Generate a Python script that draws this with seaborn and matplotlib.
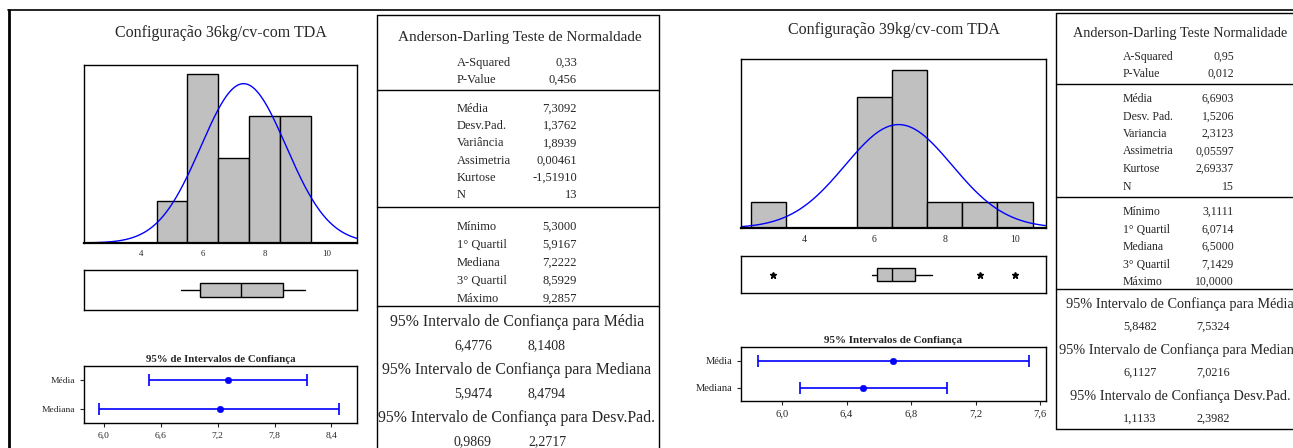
import numpy as np
import pandas as pd
import matplotlib
matplotlib.use('Agg')
import matplotlib.pyplot as plt
import seaborn as sns
from matplotlib.lines import Line2D
from matplotlib.ticker import FuncFormatter

W, H = 1293, 448

# ---------------- dados: 36 kg/cv ----------------
titulo36 = 'Configuração 36kg/cv-com TDA'
bordas36 = [4.5, 5.5, 6.5, 7.5, 8.5, 9.5]
contagem36 = [1, 4, 2, 3, 3]
media36, dp36, n36 = 7.3092, 1.3762, 13
caixa36 = [5.3, 5.9167, 7.2222, 8.5929, 9.2857]   # whislo, q1, med, q3, whishi
outliers36 = []
ic_media36 = [6.4776, 8.1408]
ic_mediana36 = [5.9474, 8.4794]
ad_val36 = ['0,33', '0,456']
desc_rot36 = ['Média', 'Desv.Pad.', 'Variância', 'Assimetria', 'Kurtose', 'N']
desc_val36 = ['7,3092', '1,3762', '1,8939', '0,00461', '-1,51910', '13']
quart_val36 = ['5,3000', '5,9167', '7,2222', '8,5929', '9,2857']
ic_cab36 = ['95% Intervalo de Confiança para Média',
            '95% Intervalo de Confiança para Mediana',
            '95% Intervalo de Confiança para Desv.Pad.']
ic_num36 = [['6,4776', '8,1408'], ['5,9474', '8,4794'], ['0,9869', '2,2717']]

# ---------------- dados: 39 kg/cv ----------------
titulo39 = 'Configuração 39kg/cv-com TDA'
bordas39 = [2.5, 3.5, 4.5, 5.5, 6.5, 7.5, 8.5, 9.5, 10.5]
contagem39 = [1, 0, 0, 5, 6, 1, 1, 1]
media39, dp39, n39 = 6.6903, 1.5206, 15
caixa39 = [5.93, 6.0714, 6.5, 7.1429, 7.65]
outliers39 = [3.1111, 9.0, 10.0]
ic_media39 = [5.8482, 7.5324]
ic_mediana39 = [6.1127, 7.0216]
ad_val39 = ['0,95', '0,012']
desc_rot39 = ['Média', 'Desv. Pad.', 'Variancia', 'Assimetria', 'Kurtose', 'N']
desc_val39 = ['6,6903', '1,5206', '2,3123', '0,05597', '2,69337', '15']
quart_val39 = ['3,1111', '6,0714', '6,5000', '7,1429', '10,0000']
ic_cab39 = ['95% Intervalo de Confiança para Média',
            '95% Intervalo de Confiança para Mediana',
            '95% Intervalo de Confiança Desv.Pad.']
ic_num39 = [['5,8482', '7,5324'], ['6,1127', '7,0216'], ['1,1133', '2,3982']]

ad_rot = ['A-Squared', 'P-Value']
quart_rot = ['Mínimo', '1° Quartil', 'Mediana', '3° Quartil', 'Máximo']

sns.set_style('white')
plt.rcParams['font.family'] = ['Liberation Serif', 'DejaVu Serif']
AZUL = '#0000ff'
CINZA = '#c0c0c0'

fig = plt.figure(figsize=(W / 100, H / 100), dpi=100)


def eixo(x1, y1, x2, y2):
    ax = fig.add_axes([x1 / W, 1 - y2 / H, (x2 - x1) / W, (y2 - y1) / H])
    for s in ax.spines.values():
        s.set_color('black')
        s.set_linewidth(1)
    return ax


def linha(x1, y1, x2, y2, lw=1):
    fig.add_artist(Line2D([x1 / W, x2 / W], [1 - y1 / H, 1 - y2 / H],
                          transform=fig.transFigure, color='black', lw=lw))


def txt(x, y, s, fs, ha='left', **kw):
    fig.text(x / W, 1 - y / H, s, fontsize=fs, ha=ha, va='center', **kw)


virgula = FuncFormatter(lambda v, p: f'{v:.1f}'.replace('.', ','))


def painel(cfg):
    # histograma + curva normal
    ax = eixo(*cfg['hist'])
    b = cfg['bordas']
    df = pd.DataFrame({'centro': [(b[i] + b[i + 1]) / 2 for i in range(len(b) - 1)],
                       'cont': cfg['cont']})
    sns.histplot(data=df, x='centro', weights='cont', bins=b, ax=ax, color=CINZA,
                 edgecolor='black', linewidth=1, alpha=1)
    xs = np.linspace(cfg['xlim'][0], cfg['xlim'][1], 300)
    ys = cfg['n'] * np.exp(-0.5 * ((xs - cfg['media']) / cfg['dp']) ** 2) / (cfg['dp'] * np.sqrt(2 * np.pi))
    sns.lineplot(x=xs, y=ys, ax=ax, color=AZUL, lw=1)
    ax.set_xlim(cfg['xlim'])
    ax.set_ylim(0, cfg['ytop'])
    ax.set_yticks([])
    ax.set_ylabel('')
    ax.set_xlabel('')
    ax.set_xticks([4, 6, 8, 10])
    ax.tick_params(axis='x', length=0, pad=5, labelsize=cfg['fs_tick'])
    ax.spines['bottom'].set_linewidth(1.6)
    fig.text((cfg['hist'][0] + cfg['hist'][2]) / 2 / W, 1 - cfg['ty'] / H, cfg['titulo'],
             fontsize=11.5, ha='center', va='center')

    # boxplot
    ax = eixo(*cfg['box'])
    c = cfg['caixa']
    st = dict(whislo=c[0], q1=c[1], med=c[2], q3=c[3], whishi=c[4], fliers=cfg['out'])
    ax.bxp([st], orientation='horizontal', positions=[0], widths=0.36, showcaps=False,
           patch_artist=True,
           boxprops=dict(facecolor=CINZA, edgecolor='black', linewidth=1),
           medianprops=dict(color='black', linewidth=1),
           whiskerprops=dict(color='black', linewidth=1),
           flierprops=dict(marker='*', markerfacecolor='black', markeredgecolor='black', markersize=5))
    ax.set_xlim(cfg['xlim'])
    ax.set_ylim(-0.5, 0.5)
    ax.set_xticks([])
    ax.set_yticks([])

    # intervalos de confiança
    ax = eixo(*cfg['ci'])
    med, mdn = cfg['media'], c[2]
    im, imd = cfg['icm'], cfg['icmd']
    ax.errorbar([med, mdn], [1, 0], xerr=[[med - im[0], mdn - imd[0]], [im[1] - med, imd[1] - mdn]],
                fmt='none', ecolor=AZUL, elinewidth=1.2, capsize=4, capthick=1.2)
    sns.scatterplot(x=[med, mdn], y=[1, 0], ax=ax, color=AZUL, edgecolor=AZUL, s=22, zorder=3)
    ax.set_xlim(cfg['cxlim'])
    ax.set_ylim(-0.5, 1.5)
    ax.set_xticks(cfg['cticks'])
    ax.xaxis.set_major_formatter(virgula)
    ax.set_yticks([1, 0])
    ax.set_yticklabels(['Média', 'Mediana'])
    ax.tick_params(axis='both', length=3, width=0.8, pad=3, labelsize=cfg['fs_ci'], direction='out',
                   bottom=True, left=True)
    ax.set_title(cfg['cititulo'], fontsize=cfg['fs_cit'], fontweight='bold', pad=3)


def tabela(t):
    fs = t['fs_r']
    txt(t['tx'], t['ty'], t['titulo'], t['fs_t'], ha='center')
    for i, (r, v) in enumerate(zip(ad_rot, t['ad'])):
        y = t['ad_y'] + i * t['ad_dy']
        txt(t['xr'], y, r, fs)
        txt(t['xv'], y, v, fs, ha='right')
    for i, (r, v) in enumerate(zip(t['drot'], t['dval'])):
        y = t['d_y'] + i * t['d_dy']
        txt(t['xr'], y, r, fs)
        txt(t['xv'], y, v, fs, ha='right')
    for i, (r, v) in enumerate(zip(quart_rot, t['qval'])):
        y = t['q_y'] + i * t['q_dy']
        txt(t['xr'], y, r, fs)
        txt(t['xv'], y, v, fs, ha='right')
    for i, (cab, nums) in enumerate(zip(t['cab'], t['nums'])):
        y = t['c_y'] + i * 2 * t['c_dy']
        txt(t['cx'], y, cab, t['fs_c'], ha='center')
        txt(t['n1'], y + t['c_dy'], nums[0], t['fs_n'], ha='center')
        txt(t['n2'], y + t['c_dy'], nums[1], t['fs_n'], ha='center')


painel(dict(hist=(84, 65, 357, 243), box=(84, 270, 357, 310), ci=(84, 366, 357, 423),
            bordas=bordas36, cont=contagem36, media=media36, dp=dp36, n=n36,
            xlim=(2.16, 10.97), ytop=4.21, caixa=caixa36, out=outliers36,
            icm=ic_media36, icmd=ic_mediana36, cxlim=(5.79, 8.67),
            cticks=[6.0, 6.6, 7.2, 7.8, 8.4], titulo=titulo36, ty=33,
            cititulo='95% de Intervalos de Confiança', fs_tick=6.3, fs_ci=6.8, fs_cit=7.8))
painel(dict(hist=(741, 59, 1046, 228), box=(741, 256, 1046, 293), ci=(741, 347, 1046, 401),
            bordas=bordas39, cont=contagem39, media=media39, dp=dp39, n=n39,
            xlim=(2.21, 10.88), ytop=6.43, caixa=caixa39, out=outliers39,
            icm=ic_media39, icmd=ic_mediana39, cxlim=(5.745, 7.637),
            cticks=[6.0, 6.4, 6.8, 7.2, 7.6], titulo=titulo39, ty=30,
            cititulo='95% Intervalos de Confiança', fs_tick=7.0, fs_ci=7.6, fs_cit=8))

# molduras das tabelas
linha(377, 15, 659, 15)
linha(377, 15, 377, 448)
linha(659, 15, 659, 448)
for y in (90, 207, 306):
    linha(377, y, 659, y)
linha(1056, 13, 1293, 13)
linha(1056, 13, 1056, 429)
linha(1056, 429, 1293, 429)
for y in (84, 197, 289):
    linha(1056, y, 1293, y)

tabela(dict(tx=520, ty=38, titulo='Anderson-Darling Teste de Normaldade', fs_t=11,
            ad=ad_val36, ad_y=63, ad_dy=17, xr=457, xv=577, fs_r=9,
            drot=desc_rot36, dval=desc_val36, d_y=109, d_dy=17.2,
            qval=quart_val36, q_y=227, q_dy=18,
            cab=ic_cab36, nums=ic_num36, c_y=322, c_dy=24, cx=517, n1=473, n2=547,
            fs_c=11.4, fs_n=10))
tabela(dict(tx=1180, ty=33, titulo='Anderson-Darling Teste Normalidade', fs_t=10.3,
            ad=ad_val39, ad_y=57, ad_dy=17, xr=1123, xv=1234, fs_r=8.5,
            drot=desc_rot39, dval=desc_val39, d_y=99, d_dy=17.5,
            qval=quart_val39, q_y=212, q_dy=17.5,
            cab=ic_cab39, nums=ic_num39, c_y=304, c_dy=23, cx=1180, n1=1140, n2=1213,
            fs_c=10.3, fs_n=8.8))

# moldura externa
linha(8, 10, 1293, 10, lw=1.2)
linha(8.5, 10, 8.5, 448, lw=2)

fig.savefig('out.png', dpi=100)
